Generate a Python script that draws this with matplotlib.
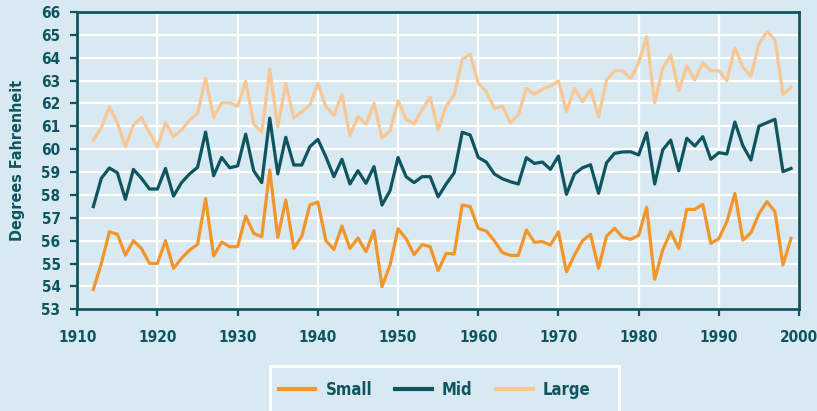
import matplotlib
matplotlib.use("Agg")
import matplotlib.pyplot as plt
from matplotlib.patches import Rectangle

years = list(range(1912, 2000))

small = [53.87, 55.0, 56.39, 56.28, 55.37, 56.0, 55.66, 55.01, 55.01, 56.0,
         54.79, 55.23, 55.59, 55.84, 57.84, 55.33, 55.94, 55.74, 55.74, 57.08,
         56.32, 56.17, 59.09, 56.15, 57.78, 55.66, 56.2, 57.56, 57.69,
         56.0, 55.62, 56.64, 55.66, 56.12, 55.52, 56.44, 53.99, 54.94, 56.52,
         56.09, 55.39, 55.83, 55.74, 54.69, 55.45, 55.42, 57.56, 57.49, 56.54,
         56.42, 56.0, 55.48, 55.36, 55.36, 56.47, 55.93, 55.96, 55.81, 56.39,
         54.64, 55.37, 56.0, 56.28, 54.79, 56.2, 56.54, 56.15, 56.06, 56.23,
         57.46, 54.31, 55.59, 56.39, 55.66, 57.37, 57.37, 57.59, 55.88, 56.09,
         56.83, 58.07, 56.03, 56.35, 57.17, 57.71, 57.27, 54.94, 56.1]

mid = [57.49, 58.73, 59.18, 58.97, 57.81, 59.12, 58.73, 58.26, 58.26, 59.16,
       57.95, 58.54, 58.92, 59.21, 60.75, 58.84, 59.64, 59.19, 59.27, 60.66,
       59.06, 58.54, 61.36, 58.92, 60.52, 59.31, 59.31, 60.11, 60.43,
       59.67, 58.8, 59.56, 58.48, 59.06, 58.51, 59.24, 57.56, 58.19, 59.64,
       58.8, 58.54, 58.8, 58.8, 57.92, 58.48, 58.97, 60.74, 60.62, 59.64,
       59.44, 58.92, 58.71, 58.58, 58.48, 59.63, 59.38, 59.44, 59.12, 59.7,
       58.03, 58.92, 59.19, 59.32, 58.07, 59.41, 59.82, 59.88, 59.89, 59.75,
       60.72, 58.48, 59.97, 60.4, 59.06, 60.48, 60.14, 60.55, 59.56, 59.85,
       59.79, 61.19, 60.15, 59.53, 61.01, 61.16, 61.31, 59.02, 59.16]

large = [60.4, 60.94, 61.86, 61.16, 60.11, 61.06, 61.39, 60.72, 60.11, 61.16,
         60.55, 60.84, 61.28, 61.57, 63.1, 61.39, 62.03, 62.03, 61.89, 62.97,
         61.1, 60.75, 63.49, 60.99, 62.88, 61.36, 61.64, 61.93, 62.88,
         61.86, 61.48, 62.4, 60.61, 61.42, 61.1, 62.01, 60.49, 60.81, 62.12,
         61.31, 61.1, 61.74, 62.27, 60.84, 61.89, 62.37, 63.93, 64.15, 62.88,
         62.52, 61.79, 61.89, 61.16, 61.5, 62.66, 62.41, 62.62, 62.76, 62.98,
         61.64, 62.66, 62.08, 62.62, 61.42, 63.03, 63.43, 63.43, 63.1, 63.78,
         64.92, 62.03, 63.54, 64.12, 62.56, 63.64, 63.03, 63.78, 63.43, 63.43,
         63.0, 64.44, 63.58, 63.2, 64.6, 65.14, 64.8, 62.4, 62.71]

labels = ["Small", "Mid", "Large"]
colors = ["#f2962b", "#0e5560", "#f7c794"]

bg = "#d9e9f1"
teal = "#0e5560"
font = dict(family="DejaVu Sans", stretch="condensed", weight="bold")

fig = plt.figure(figsize=(8.17, 4.11), dpi=100, facecolor=bg)
ax = fig.add_axes([0.0946, 0.2474, 0.8834, 0.7234], facecolor=bg)

for series, lab, col in zip([small, mid, large], labels, colors):
    ax.plot(years, series, color=col, lw=2.3, label=lab)

ax.set_xlim(1910, 2000)
ax.set_ylim(53, 66)
ax.set_xticks(range(1910, 2001, 10))
ax.set_yticks(range(53, 67))
ax.grid(True, color="white", lw=1.6)
ax.set_axisbelow(True)

for s in ax.spines.values():
    s.set_color(teal)
    s.set_linewidth(2)

ax.tick_params(axis="both", direction="out", length=5, width=1.6, color=teal,
               labelcolor=teal)
ax.tick_params(axis="x", pad=10)
ax.tick_params(axis="y", pad=7)
for t in ax.get_xticklabels() + ax.get_yticklabels():
    t.set(**font, fontsize=11)

ax.set_ylabel("Degrees Fahrenheit", fontsize=11.5, color=teal, **font)
ax.yaxis.set_label_coords(-0.072, 0.5)

# legend box, runs off the bottom edge
fig.patches.append(Rectangle((270 / 817, -0.05), 349 / 817, 0.05 + 45 / 411,
                             transform=fig.transFigure, facecolor=bg,
                             edgecolor="white", lw=2))
leg = fig.legend(loc="center", bbox_to_anchor=(0.532, 1 - 390 / 411), ncol=3,
                 frameon=False, handlelength=2.2, handletextpad=0.6,
                 columnspacing=1.4, prop=dict(size=12, **font))
for t in leg.get_texts():
    t.set_color(teal)
for h in leg.legend_handles:
    h.set_linewidth(3)

fig.savefig("out.png", dpi=100, facecolor=bg)
